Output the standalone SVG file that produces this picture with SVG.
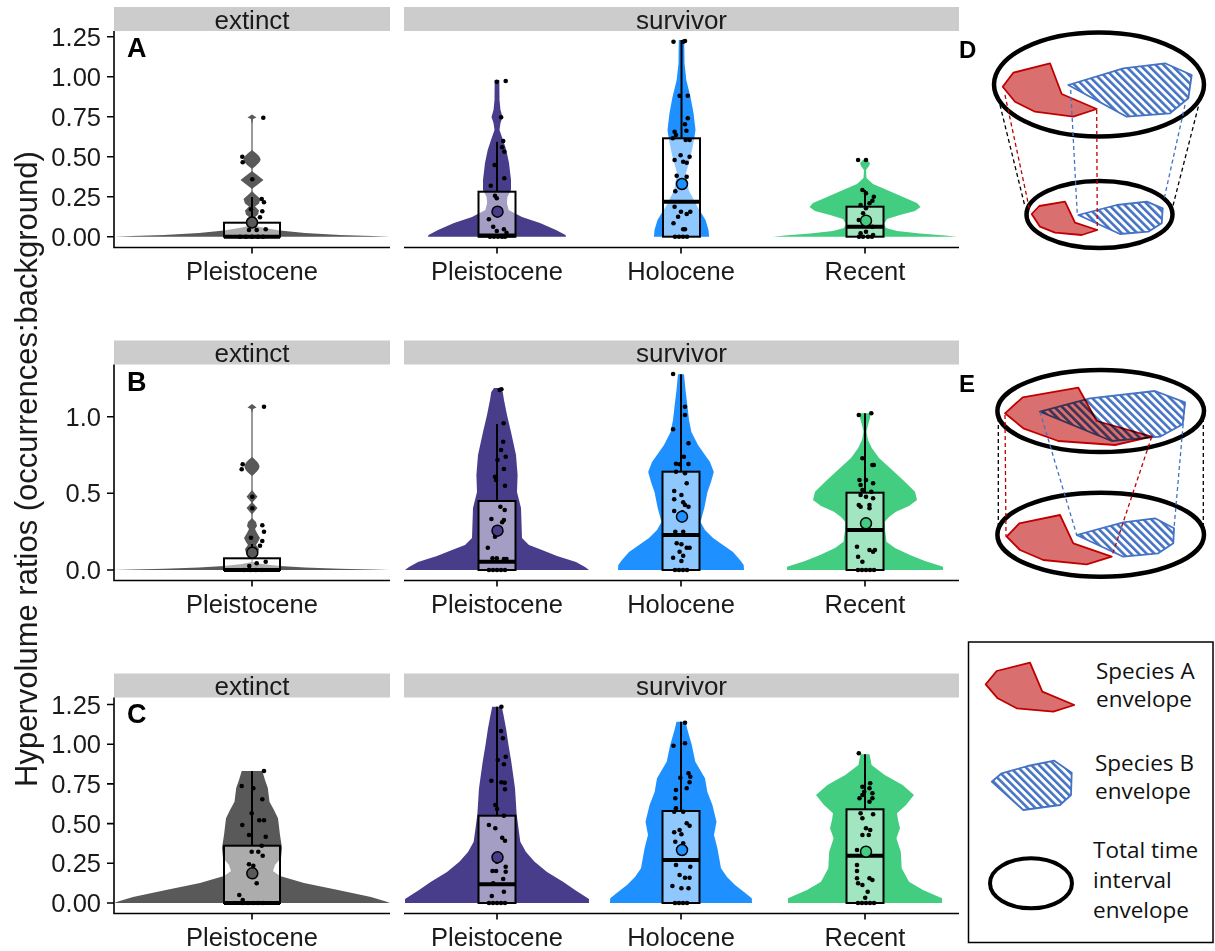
<svg xmlns="http://www.w3.org/2000/svg" width="1215" height="951" viewBox="0 0 1215 951">
<defs>
<pattern id="hatch" width="5.5" height="5.5" patternUnits="userSpaceOnUse" patternTransform="rotate(-45)"><rect width="5.5" height="5.5" fill="#fff"/><rect width="2.6" height="5.5" fill="#4472C4"/></pattern>
<style>
text{font-family:"Liberation Sans",Arial,sans-serif;fill:#1a1a1a}
.strip{fill:#cccccc}
.st{font-size:26px;text-anchor:middle}
.tk{font-size:25.5px;text-anchor:end}
.cat{font-size:25.5px;text-anchor:middle}
.let{font-size:27px;font-weight:bold;fill:#000}
.ax{stroke:#000;stroke-width:1.6;fill:none}
.vG{fill:#595959}.vP{fill:#483D8B}.vH{fill:#1E90FF}.vR{fill:#43CD80}
.box{fill:#fff;fill-opacity:.5;stroke:#000;stroke-width:2}
.med{stroke:#000;stroke-width:4}
.wh{stroke:#000;stroke-width:2}
.mn{stroke:#000;stroke-width:1.5}
.pts circle{fill:#000}
.red{fill:#D9706F;stroke:#C00000;stroke-width:1.8;stroke-linejoin:round}
.blue{fill:url(#hatch);stroke:#4472C4;stroke-width:1.8;stroke-linejoin:round}
.ell{fill:none;stroke:#000;stroke-width:4.5}
.dk{stroke:#000;stroke-width:1.3;stroke-dasharray:4 3;fill:none}
.dr{stroke:#C00000;stroke-width:1.3;stroke-dasharray:4 3;fill:none}
.db{stroke:#4472C4;stroke-width:1.3;stroke-dasharray:4 3;fill:none}
.leg{font-family:"Open Sans","Noto Sans",sans-serif;font-size:22.5px;fill:#111}
</style>
</defs>
<rect width="1215" height="951" fill="#fff"/>

<text transform="translate(37,469) rotate(-90)" text-anchor="middle" font-size="31">Hypervolume ratios (occurrences:background)</text>

<!-- ================= PANEL A ================= -->
<g id="panelA">
<rect class="strip" x="114" y="7" width="276" height="24"/>
<rect class="strip" x="404" y="7" width="555" height="24"/>
<text class="st" x="252" y="28.5">extinct</text>
<text class="st" x="681.5" y="28.5">survivor</text>
<path class="ax" d="M114,31V247.5H390M404,247.5H959M107,36.7H114M107,76.7H114M107,116.7H114M107,156.7H114M107,196.7H114M107,236.7H114M252,247.5V253.5M497,247.5V253.5M681,247.5V253.5M865,247.5V253.5"/>
<g class="tk"><text class="tk" x="101" y="45.7">1.25</text><text class="tk" x="101" y="85.7">1.00</text><text class="tk" x="101" y="125.7">0.75</text><text class="tk" x="101" y="165.7">0.50</text><text class="tk" x="101" y="205.7">0.25</text><text class="tk" x="101" y="245.7">0.00</text></g>
<text class="cat" x="252" y="280">Pleistocene</text><text class="cat" x="497" y="280">Pleistocene</text><text class="cat" x="681" y="280">Holocene</text><text class="cat" x="865" y="280">Recent</text>
<text class="let" x="127" y="57.3">A</text>
<g id="A-extinct">
<path class="vG" d="M114,236.7L390,236.7L372,236L340,235L305,233L280,230.5L262,227.5L252,225L242,227.5L224,230.5L199,233L164,235L132,236Z"/>
<rect class="vG" x="251.4" y="118" width="1.2" height="108"/>
<polygon class="vG" points="252,114.5 256.5,117.5 253,119 252,124 251,119 247.5,117.5"/>
<path class="vG" d="M252,150C257,154 260.5,157 260.5,159.5C260.5,162 257,165 252,169C247,165 243.5,162 243.5,159.5C243.5,157 247,154 252,150Z"/>
<polygon class="vG" points="252,171 263.5,180 252,189 240.5,180"/>
<polygon class="vG" points="252,191 255.5,194.5 260.5,199 259,203.5 255,206.5 259,210.5 258,214.5 254.5,217.5 257,221.5 252,225 247,221.5 249.5,217.5 246,214.5 245,210.5 249,206.5 245,203.5 243.5,199 248.5,194.5"/>
<line class="wh" x1="252" y1="197" x2="252" y2="222.7"/>
<rect class="box" x="224" y="222.7" width="56" height="14"/>
<line class="med" x1="224" y1="236.7" x2="280" y2="236.7"/>
<g class="pts"><circle cx="263.3" cy="117.7" r="2.3"/><circle cx="242.3" cy="156.7" r="2.3"/><circle cx="242.7" cy="162.3" r="2.3"/><circle cx="252.3" cy="179.3" r="2.3"/><circle cx="261.7" cy="199" r="2.3"/><circle cx="264" cy="202.3" r="2.3"/><circle cx="251" cy="209.3" r="2.3"/><circle cx="262.3" cy="211.3" r="2.3"/><circle cx="260" cy="217.3" r="2.3"/><circle cx="249" cy="230" r="2.3"/><circle cx="256.7" cy="230" r="2.3"/><circle cx="265.7" cy="229.3" r="2.3"/><circle cx="240" cy="236.7" r="2.3"/><circle cx="246" cy="236.7" r="2.3"/><circle cx="252" cy="236.7" r="2.3"/><circle cx="258" cy="236.7" r="2.3"/><circle cx="263" cy="236.7" r="2.3"/></g>
<circle class="mn vG" cx="252" cy="222.5" r="5.5"/>
</g>
<g id="A-pleistocene">
<polygon class="vP" points="499.3,80 499.5,100 500.5,110 502.5,117 500.5,123 499.5,130 503,140 506.3,150 509,163 511,180 511,190 507.4,197 506.9,203 508.6,210 522,217 540,223 556,230 565.5,235 566,236.7 428,236.7 428.5,235 438,230 454,223 472,217 485.4,210 487.1,203 486.6,197 483,190 483,180 485,163 487.7,150 491,140 494.5,130 493.5,123 491.5,117 493.5,110 494.5,100 494.7,80"/>
<line class="wh" x1="497" y1="141.7" x2="497" y2="191.7"/>
<rect class="box" x="478.5" y="191.7" width="37" height="45"/>
<line class="med" x1="478.5" y1="235.5" x2="515.5" y2="235.5"/>
<g class="pts"><circle cx="505.7" cy="81" r="2.3"/><circle cx="496.8" cy="81.7" r="2.3"/><circle cx="501.1" cy="117.3" r="2.3"/><circle cx="503.2" cy="141" r="2.3"/><circle cx="502.2" cy="147.3" r="2.3"/><circle cx="504.3" cy="151.7" r="2.3"/><circle cx="494.6" cy="165" r="2.3"/><circle cx="504.3" cy="178.3" r="2.3"/><circle cx="490.7" cy="185.7" r="2.3"/><circle cx="495" cy="195.7" r="2.3"/><circle cx="496.8" cy="198.3" r="2.3"/><circle cx="488.9" cy="219.3" r="2.3"/><circle cx="493.2" cy="226.7" r="2.3"/><circle cx="496.8" cy="231" r="2.3"/><circle cx="503.9" cy="229.3" r="2.3"/><circle cx="506.5" cy="232.7" r="2.3"/><circle cx="490" cy="236.7" r="2.3"/><circle cx="494" cy="236.7" r="2.3"/><circle cx="498" cy="236.7" r="2.3"/><circle cx="502" cy="236.7" r="2.3"/><circle cx="505" cy="236.7" r="2.3"/></g>
<circle class="mn vP" cx="497.5" cy="211.7" r="5.5"/>
</g>
<g id="A-holocene">
<polygon class="vH" points="684.2,40 684.5,63 686.3,80 690.5,97 693.5,113 695.5,130 694,140 690.5,157 686,173 688.7,190 697.5,207 705.5,220 708.5,230 709.1,236.7 653.9,236.7 654.5,230 657.5,220 665.5,207 674.3,190 677,173 672.5,157 669,140 667.5,130 669.5,113 672.5,97 676.7,80 678.5,63 678.8,40"/>
<line class="wh" x1="681.5" y1="40" x2="681.5" y2="138.3"/>
<rect class="box" x="663" y="138.3" width="37" height="98.4"/>
<line class="med" x1="663" y1="201.7" x2="700" y2="201.7"/>
<g class="pts"><circle cx="673.5" cy="41.7" r="2.3"/><circle cx="685" cy="41" r="2.3"/><circle cx="683.2" cy="41.7" r="2.3"/><circle cx="679.6" cy="95.7" r="2.3"/><circle cx="687.8" cy="95.7" r="2.3"/><circle cx="687.8" cy="118.3" r="2.3"/><circle cx="685" cy="124.3" r="2.3"/><circle cx="686.4" cy="130.7" r="2.3"/><circle cx="674.6" cy="131.7" r="2.3"/><circle cx="676" cy="135" r="2.3"/><circle cx="672.8" cy="138.3" r="2.3"/><circle cx="685.7" cy="140" r="2.3"/><circle cx="689.6" cy="140" r="2.3"/><circle cx="674.6" cy="160" r="2.3"/><circle cx="680.6" cy="155.3" r="2.3"/><circle cx="689.6" cy="156.7" r="2.3"/><circle cx="683.2" cy="161.7" r="2.3"/><circle cx="686.7" cy="162.7" r="2.3"/><circle cx="676.7" cy="175.7" r="2.3"/><circle cx="686.7" cy="176.7" r="2.3"/><circle cx="675.3" cy="191.3" r="2.3"/><circle cx="674.6" cy="206.7" r="2.3"/><circle cx="681" cy="211.7" r="2.3"/><circle cx="690.3" cy="211.7" r="2.3"/><circle cx="686.7" cy="214" r="2.3"/><circle cx="678.1" cy="216.7" r="2.3"/><circle cx="673.5" cy="223.3" r="2.3"/><circle cx="683.2" cy="229.3" r="2.3"/><circle cx="685" cy="229.3" r="2.3"/><circle cx="675" cy="236.7" r="2.3"/><circle cx="679" cy="236.7" r="2.3"/><circle cx="683" cy="236.7" r="2.3"/><circle cx="687" cy="236.7" r="2.3"/></g>
<circle class="mn vH" cx="682" cy="184" r="5.5"/>
</g>
<g id="A-recent">
<polygon class="vR" points="867,160 870,163 869,166 866,170 866.5,178 873,184 887,190 903,197 917,203 920.5,207 915,211 900,215 887,219 884,224 886,228 897,231 920,233.5 945,235.5 957,236.7 773,236.7 785,235.5 810,233.5 833,231 844,228 846,224 843,219 830,215 815,211 809.5,207 813,203 827,197 843,190 857,184 863.5,178 864,170 861,166 860,163 863,160"/>
<line class="wh" x1="865" y1="190" x2="865" y2="206.7"/>
<rect class="box" x="846.5" y="206.7" width="37" height="30"/>
<line class="med" x1="846.5" y1="226.7" x2="883.5" y2="226.7"/>
<g class="pts"><circle cx="858.1" cy="160" r="2.3"/><circle cx="866" cy="160" r="2.3"/><circle cx="862.4" cy="190" r="2.3"/><circle cx="866" cy="193.3" r="2.3"/><circle cx="873.8" cy="196.7" r="2.3"/><circle cx="872.4" cy="200.7" r="2.3"/><circle cx="869.5" cy="203.3" r="2.3"/><circle cx="860.6" cy="205" r="2.3"/><circle cx="866" cy="208.3" r="2.3"/><circle cx="863.1" cy="213.3" r="2.3"/><circle cx="858.8" cy="220" r="2.3"/><circle cx="869.5" cy="221.7" r="2.3"/><circle cx="872.4" cy="226.7" r="2.3"/><circle cx="866" cy="231.7" r="2.3"/><circle cx="860.6" cy="233.3" r="2.3"/><circle cx="873.1" cy="235" r="2.3"/><circle cx="859" cy="236.7" r="2.3"/><circle cx="863" cy="236.7" r="2.3"/><circle cx="868" cy="236.7" r="2.3"/><circle cx="872" cy="236.7" r="2.3"/></g>
<circle class="mn vR" cx="866" cy="220.7" r="5.5"/>
</g>
</g>

<!-- ================= PANEL B ================= -->
<g id="panelB">
<rect class="strip" x="114" y="340.5" width="276" height="24"/>
<rect class="strip" x="404" y="340.5" width="555" height="24"/>
<text class="st" x="252" y="361.8">extinct</text>
<text class="st" x="681.5" y="361.8">survivor</text>
<path class="ax" d="M114,364.5V580.5H390M404,580.5H959M107,416.7H114M107,493.3H114M107,570H114M252,580.5V586.5M497,580.5V586.5M681,580.5V586.5M865,580.5V586.5"/>
<text class="tk" x="101" y="425.7">1.0</text><text class="tk" x="101" y="502.3">0.5</text><text class="tk" x="101" y="579">0.0</text>
<text class="cat" x="252" y="613">Pleistocene</text><text class="cat" x="497" y="613">Pleistocene</text><text class="cat" x="681" y="613">Holocene</text><text class="cat" x="865" y="613">Recent</text>
<text class="let" x="127" y="391">B</text>
<g id="B-extinct">
<path class="vG" d="M114,570L390,570L372,569.5L340,568.7L305,567.5L280,566L262,564L252,562L242,564L224,566L199,567.5L164,568.7L132,569.5Z"/>
<rect class="vG" x="251.4" y="405" width="1.2" height="158"/>
<polygon class="vG" points="252,404 256.5,407.5 253,409 252,413 251,409 247.5,407.5"/>
<path class="vG" d="M252,457C257,461 259.5,464 259.5,466.5C259.5,469 257,472 252,476C247,472 244.5,469 244.5,466.5C244.5,464 247,461 252,457Z"/>
<polygon class="vG" points="252,490 257.5,496.7 252,503 246.5,496.7"/>
<polygon class="vG" points="252,502 257.5,508 252,514.5 246.5,508"/>
<polygon class="vG" points="252,518 256,522 257,526 255,529 257,533 260,538 258,542 256,545 259,549 258,553 252,558 246,553 245,549 248,545 246,542 244,538 247,533 249,529 247,526 248,522"/>
<line class="wh" x1="252" y1="544" x2="252" y2="558.3"/>
<rect class="box" x="224" y="558.3" width="56" height="11.7"/>
<line class="med" x1="224" y1="570" x2="280" y2="570"/>
<g class="pts"><circle cx="264" cy="406.7" r="2.3"/><circle cx="242.7" cy="464.3" r="2.3"/><circle cx="241.7" cy="469.3" r="2.3"/><circle cx="252.3" cy="496.7" r="2.3"/><circle cx="252.3" cy="508.3" r="2.3"/><circle cx="262.3" cy="525.3" r="2.3"/><circle cx="264" cy="531.7" r="2.3"/><circle cx="251" cy="537.7" r="2.3"/><circle cx="262.3" cy="541" r="2.3"/><circle cx="260" cy="545.7" r="2.3"/><circle cx="256.7" cy="563.3" r="2.3"/><circle cx="265.7" cy="561.7" r="2.3"/><circle cx="249.3" cy="566" r="2.3"/><circle cx="244" cy="570" r="2.3"/><circle cx="250" cy="570" r="2.3"/><circle cx="256" cy="570" r="2.3"/><circle cx="262" cy="570" r="2.3"/></g>
<circle class="mn vG" cx="252.3" cy="552.7" r="5.5"/>
</g>
<g id="B-pleistocene">
<polygon class="vP" points="500,388 502.7,392 504,400 507,415 511,432 516,455 517.6,475 517,492 521,508 522,538 529,545 542,550 557,556 576,562 585,567 589,570 405,570 409,567 418,562 437,556 452,550 465,545 472,538 473,508 477,492 476.4,475 478,455 483,432 487,415 490,400 491.3,392 494,388"/>
<line class="wh" x1="497" y1="424" x2="497" y2="501"/>
<rect class="box" x="478.5" y="501" width="37" height="69"/>
<line class="med" x1="478.5" y1="561.7" x2="515.5" y2="561.7"/>
<g class="pts"><circle cx="501.4" cy="389.3" r="2.3"/><circle cx="499.6" cy="390" r="2.3"/><circle cx="503.6" cy="423.3" r="2.3"/><circle cx="503.2" cy="441.7" r="2.3"/><circle cx="501.1" cy="450" r="2.3"/><circle cx="505.7" cy="456.7" r="2.3"/><circle cx="497.5" cy="460" r="2.3"/><circle cx="503.9" cy="469" r="2.3"/><circle cx="495" cy="476.7" r="2.3"/><circle cx="496.1" cy="480" r="2.3"/><circle cx="505" cy="485.7" r="2.3"/><circle cx="500.4" cy="506.7" r="2.3"/><circle cx="504.7" cy="510" r="2.3"/><circle cx="491.4" cy="519" r="2.3"/><circle cx="503.9" cy="520" r="2.3"/><circle cx="502.2" cy="522.3" r="2.3"/><circle cx="495" cy="536.7" r="2.3"/><circle cx="487.8" cy="547.7" r="2.3"/><circle cx="492.5" cy="558.3" r="2.3"/><circle cx="496.8" cy="558.3" r="2.3"/><circle cx="503.9" cy="559" r="2.3"/><circle cx="506.5" cy="559" r="2.3"/><circle cx="489" cy="570" r="2.3"/><circle cx="493" cy="570" r="2.3"/><circle cx="497" cy="570" r="2.3"/><circle cx="501" cy="570" r="2.3"/><circle cx="505" cy="570" r="2.3"/></g>
<circle class="mn vP" cx="497.5" cy="530.7" r="5.5"/>
</g>
<g id="B-holocene">
<polygon class="vH" points="684,374.3 685.5,390 687.3,405 689,420 691.4,432 698,445 705,455 710,462 713.8,472 711,482 707.5,492 704.3,508 700.5,522 705,530 713,538 723,545 733,552 740,560 743.7,565 744,570 618,570 618.3,565 622,560 629,552 639,545 649,538 657,530 661.5,522 657.7,508 654.5,492 651,482 648.2,472 652,462 657,455 664,445 670.6,432 673,420 674.7,405 676.5,390 678,374.3"/>
<line class="wh" x1="681" y1="374.3" x2="681" y2="471.7"/>
<rect class="box" x="662.5" y="471.7" width="37" height="98.3"/>
<line class="med" x1="662.5" y1="535" x2="699.5" y2="535"/>
<g class="pts"><circle cx="673.1" cy="374" r="2.3"/><circle cx="685" cy="406.7" r="2.3"/><circle cx="685" cy="415" r="2.3"/><circle cx="673.1" cy="429.3" r="2.3"/><circle cx="688.5" cy="443.3" r="2.3"/><circle cx="683.9" cy="456.7" r="2.3"/><circle cx="676" cy="463.7" r="2.3"/><circle cx="679.6" cy="464.3" r="2.3"/><circle cx="688.5" cy="464" r="2.3"/><circle cx="676" cy="471.7" r="2.3"/><circle cx="685" cy="473.3" r="2.3"/><circle cx="686.7" cy="483.3" r="2.3"/><circle cx="674.2" cy="491" r="2.3"/><circle cx="681.4" cy="495" r="2.3"/><circle cx="674.2" cy="499.3" r="2.3"/><circle cx="683.2" cy="502.3" r="2.3"/><circle cx="685" cy="505" r="2.3"/><circle cx="688.5" cy="506.7" r="2.3"/><circle cx="674.2" cy="511" r="2.3"/><circle cx="682.4" cy="512.3" r="2.3"/><circle cx="675.3" cy="531.7" r="2.3"/><circle cx="683.2" cy="531.7" r="2.3"/><circle cx="676.7" cy="543.3" r="2.3"/><circle cx="681.4" cy="544.3" r="2.3"/><circle cx="686.7" cy="547.7" r="2.3"/><circle cx="689.6" cy="547.7" r="2.3"/><circle cx="679.6" cy="551.7" r="2.3"/><circle cx="673.1" cy="557.7" r="2.3"/><circle cx="683.2" cy="555.7" r="2.3"/><circle cx="681.4" cy="561" r="2.3"/><circle cx="675" cy="570" r="2.3"/><circle cx="679" cy="570" r="2.3"/><circle cx="683" cy="570" r="2.3"/><circle cx="687" cy="570" r="2.3"/></g>
<circle class="mn vH" cx="682" cy="516.7" r="5.5"/>
</g>
<g id="B-recent">
<polygon class="vR" points="870.4,413.3 870,418 868,425 866.5,431.7 868,440 871.8,448 879,458 890,468 903,480 915,491.7 917,500 909,506 896,511.7 889,517 884.7,521.7 885,530 886.5,541.7 895,548 910,555 925,561 943,566.7 943,570 787,570 787,566.7 805,561 820,555 835,548 843.5,541.7 845,530 845.3,521.7 841,517 834,511.7 821,506 813,500 815,491.7 827,480 840,468 851,458 858.2,448 862,440 863.5,431.7 862,425 860,418 859.6,413.3"/>
<line class="wh" x1="865" y1="413.3" x2="865" y2="492.7"/>
<rect class="box" x="846.5" y="492.7" width="37" height="77.3"/>
<line class="med" x1="846.5" y1="530" x2="883.5" y2="530"/>
<g class="pts"><circle cx="858.8" cy="415" r="2.3"/><circle cx="871.3" cy="413.3" r="2.3"/><circle cx="862.4" cy="458.3" r="2.3"/><circle cx="872.4" cy="465" r="2.3"/><circle cx="873.8" cy="465" r="2.3"/><circle cx="859.5" cy="480" r="2.3"/><circle cx="866" cy="480" r="2.3"/><circle cx="860.6" cy="485" r="2.3"/><circle cx="873.1" cy="483.3" r="2.3"/><circle cx="862.4" cy="490" r="2.3"/><circle cx="871.3" cy="491.7" r="2.3"/><circle cx="860.6" cy="495" r="2.3"/><circle cx="866" cy="496.7" r="2.3"/><circle cx="873.1" cy="498.3" r="2.3"/><circle cx="858.8" cy="505" r="2.3"/><circle cx="869.5" cy="505" r="2.3"/><circle cx="860.6" cy="506.7" r="2.3"/><circle cx="869.5" cy="508.3" r="2.3"/><circle cx="866" cy="521.7" r="2.3"/><circle cx="857" cy="546.7" r="2.3"/><circle cx="869.5" cy="550" r="2.3"/><circle cx="874.9" cy="550" r="2.3"/><circle cx="873.1" cy="551.7" r="2.3"/><circle cx="858.1" cy="556.7" r="2.3"/><circle cx="862.4" cy="561.7" r="2.3"/><circle cx="858" cy="570" r="2.3"/><circle cx="862" cy="570" r="2.3"/><circle cx="866" cy="570" r="2.3"/><circle cx="870" cy="570" r="2.3"/><circle cx="874" cy="570" r="2.3"/></g>
<circle class="mn vR" cx="866" cy="523.3" r="5.5"/>
</g>
</g>

<!-- ================= PANEL C ================= -->
<g id="panelC">
<rect class="strip" x="114" y="673.5" width="276" height="24"/>
<rect class="strip" x="404" y="673.5" width="555" height="24"/>
<text class="st" x="252" y="694.8">extinct</text>
<text class="st" x="681.5" y="694.8">survivor</text>
<path class="ax" d="M114,697.5V913.5H390M404,913.5H959M107,704.5H114M107,744.2H114M107,783.9H114M107,823.6H114M107,863.3H114M107,903H114M252,913.5V919.5M497,913.5V919.5M681,913.5V919.5M865,913.5V919.5"/>
<text class="tk" x="101" y="713.5">1.25</text><text class="tk" x="101" y="753.2">1.00</text><text class="tk" x="101" y="792.9">0.75</text><text class="tk" x="101" y="832.6">0.50</text><text class="tk" x="101" y="872.3">0.25</text><text class="tk" x="101" y="912">0.00</text>
<text class="cat" x="252" y="946">Pleistocene</text><text class="cat" x="497" y="946">Pleistocene</text><text class="cat" x="681" y="946">Holocene</text><text class="cat" x="865" y="946">Recent</text>
<text class="let" x="127" y="723.3">C</text>
<g id="C-extinct">
<polygon class="vG" points="262.3,771 265,780 267.8,788 269.5,801.7 274,810 278,818.3 280,835 282,848 281,858 275,865 273,871 280,876 304,883 338,890 371,897 386,901.5 390,903 114,903 118,901.5 133,897 166,890 200,883 224,876 231,871 229,865 223,858 222,848 224,835 226,818.3 230,810 234.5,801.7 236.2,788 239,780 241.7,771"/>
<line class="wh" x1="252" y1="771" x2="252" y2="845.7"/>
<rect class="box" x="224" y="845.7" width="56" height="57.3"/>
<line class="med" x1="224" y1="903" x2="280" y2="903"/>
<g class="pts"><circle cx="264" cy="771" r="2.3"/><circle cx="241.7" cy="786" r="2.3"/><circle cx="253.3" cy="788.3" r="2.3"/><circle cx="262.3" cy="799.3" r="2.3"/><circle cx="251.7" cy="813.3" r="2.3"/><circle cx="259.3" cy="820.3" r="2.3"/><circle cx="264" cy="820.3" r="2.3"/><circle cx="242.3" cy="825" r="2.3"/><circle cx="249" cy="835" r="2.3"/><circle cx="265.7" cy="836.7" r="2.3"/><circle cx="261.7" cy="845.7" r="2.3"/><circle cx="251.7" cy="851.7" r="2.3"/><circle cx="258.3" cy="851.7" r="2.3"/><circle cx="262.7" cy="855.7" r="2.3"/><circle cx="249" cy="864.3" r="2.3"/><circle cx="253.3" cy="865.7" r="2.3"/><circle cx="256.7" cy="883.3" r="2.3"/><circle cx="239.3" cy="895" r="2.3"/><circle cx="242.7" cy="900" r="2.3"/><circle cx="243" cy="903" r="2.3"/><circle cx="248" cy="903" r="2.3"/><circle cx="253" cy="903" r="2.3"/><circle cx="258" cy="903" r="2.3"/><circle cx="263" cy="903" r="2.3"/></g>
<circle class="mn vG" cx="252.3" cy="873.3" r="5.5"/>
</g>
<g id="C-pleistocene">
<polygon class="vP" points="501.8,706.7 503.5,715 506,728.3 508.5,745 511.3,761.7 515,788.3 516.7,815 520.3,841.7 526,852 534.6,861.7 547,872 563,881.7 575,890 589,899 589,903 405,903 405,899 419,890 431,881.7 447,872 459.4,861.7 468,852 473.7,841.7 477.3,815 479,788.3 482.7,761.7 485.5,745 488,728.3 490.5,715 492.2,706.7"/>
<line class="wh" x1="497" y1="706.7" x2="497" y2="815.7"/>
<rect class="box" x="478.5" y="815.7" width="37" height="87.3"/>
<line class="med" x1="478.5" y1="884.3" x2="515.5" y2="884.3"/>
<g class="pts"><circle cx="501.4" cy="706.7" r="2.3"/><circle cx="501.1" cy="731" r="2.3"/><circle cx="502.9" cy="738.3" r="2.3"/><circle cx="505.7" cy="756.7" r="2.3"/><circle cx="497.8" cy="760" r="2.3"/><circle cx="503.9" cy="764.3" r="2.3"/><circle cx="491.4" cy="780.7" r="2.3"/><circle cx="501.4" cy="782.3" r="2.3"/><circle cx="504.7" cy="782.7" r="2.3"/><circle cx="505" cy="789.3" r="2.3"/><circle cx="495.3" cy="805" r="2.3"/><circle cx="497.1" cy="809" r="2.3"/><circle cx="503.9" cy="815.7" r="2.3"/><circle cx="488.9" cy="825" r="2.3"/><circle cx="495.3" cy="828.3" r="2.3"/><circle cx="502.2" cy="837.7" r="2.3"/><circle cx="505" cy="840.7" r="2.3"/><circle cx="496.8" cy="861.7" r="2.3"/><circle cx="505.7" cy="866.7" r="2.3"/><circle cx="492.5" cy="871" r="2.3"/><circle cx="496.1" cy="871" r="2.3"/><circle cx="505.7" cy="871.7" r="2.3"/><circle cx="503.2" cy="879" r="2.3"/><circle cx="493.2" cy="883.3" r="2.3"/><circle cx="491.8" cy="896" r="2.3"/><circle cx="503.9" cy="891.7" r="2.3"/><circle cx="489" cy="903" r="2.3"/><circle cx="493" cy="903" r="2.3"/><circle cx="497" cy="903" r="2.3"/><circle cx="501" cy="903" r="2.3"/><circle cx="505" cy="903" r="2.3"/></g>
<circle class="mn vP" cx="497.5" cy="857.3" r="5.5"/>
</g>
<g id="C-holocene">
<polygon class="vH" points="685.5,721.7 687.5,730 691.8,745 695.3,761.7 705,778.3 707.3,791.7 712.4,805 716.5,821.7 714,835 717.4,848.3 721,868.3 727,877 735,885 744,892 751.8,898.3 752,903 610,903 610.2,898.3 618,892 627,885 635,877 641,868.3 644.6,848.3 648,835 645.5,821.7 649.6,805 654.7,791.7 657,778.3 666.7,761.7 670.2,745 674.5,730 676.5,721.7"/>
<line class="wh" x1="681" y1="721.7" x2="681" y2="811"/>
<rect class="box" x="662.5" y="811" width="37" height="92"/>
<line class="med" x1="662.5" y1="860" x2="699.5" y2="860"/>
<g class="pts"><circle cx="685" cy="722.7" r="2.3"/><circle cx="673.5" cy="745.7" r="2.3"/><circle cx="685" cy="743.3" r="2.3"/><circle cx="688.5" cy="773.3" r="2.3"/><circle cx="690.3" cy="776.7" r="2.3"/><circle cx="680.3" cy="777.7" r="2.3"/><circle cx="689.6" cy="782.3" r="2.3"/><circle cx="686.7" cy="788.3" r="2.3"/><circle cx="676" cy="790" r="2.3"/><circle cx="675.3" cy="798.3" r="2.3"/><circle cx="676" cy="808.3" r="2.3"/><circle cx="674.2" cy="811.7" r="2.3"/><circle cx="683.2" cy="811.7" r="2.3"/><circle cx="686.7" cy="823.3" r="2.3"/><circle cx="689.6" cy="825.7" r="2.3"/><circle cx="679.6" cy="830" r="2.3"/><circle cx="674.2" cy="832.3" r="2.3"/><circle cx="681.4" cy="834.3" r="2.3"/><circle cx="675.3" cy="841.7" r="2.3"/><circle cx="683.2" cy="843.3" r="2.3"/><circle cx="681" cy="847.7" r="2.3"/><circle cx="690.3" cy="866.7" r="2.3"/><circle cx="676" cy="865" r="2.3"/><circle cx="679.6" cy="875" r="2.3"/><circle cx="685" cy="877.7" r="2.3"/><circle cx="689.6" cy="877.7" r="2.3"/><circle cx="672.4" cy="886" r="2.3"/><circle cx="681.4" cy="888.3" r="2.3"/><circle cx="688.5" cy="888.3" r="2.3"/><circle cx="675" cy="903" r="2.3"/><circle cx="679" cy="903" r="2.3"/><circle cx="683" cy="903" r="2.3"/><circle cx="687" cy="903" r="2.3"/></g>
<circle class="mn vH" cx="682" cy="850" r="5.5"/>
</g>
<g id="C-recent">
<polygon class="vR" points="869.5,754.3 871.6,765 884.7,775 902.6,785 914,795 906,805 897,813.3 898,820 900,828.3 896.4,838.3 900.8,851.7 901.7,868.3 909,881.7 923,890 942,898.3 942,903 788,903 788,898.3 807,890 821,881.7 828.3,868.3 829.2,851.7 833.6,838.3 830,828.3 832,820 833,813.3 824,805 816,795 827.4,785 845.3,775 858.4,765 860.5,754.3"/>
<line class="wh" x1="865" y1="754.3" x2="865" y2="809.3"/>
<rect class="box" x="846.5" y="809.3" width="37" height="93.7"/>
<line class="med" x1="846.5" y1="855.7" x2="883.5" y2="855.7"/>
<g class="pts"><circle cx="858.8" cy="753.3" r="2.3"/><circle cx="862.4" cy="786.7" r="2.3"/><circle cx="870.2" cy="783.3" r="2.3"/><circle cx="869.5" cy="788.3" r="2.3"/><circle cx="864.2" cy="791.7" r="2.3"/><circle cx="872.4" cy="793.3" r="2.3"/><circle cx="862.4" cy="795" r="2.3"/><circle cx="859.5" cy="798.3" r="2.3"/><circle cx="872.4" cy="798.3" r="2.3"/><circle cx="869.5" cy="801.7" r="2.3"/><circle cx="860.6" cy="813.3" r="2.3"/><circle cx="873.1" cy="814.3" r="2.3"/><circle cx="862.4" cy="818.3" r="2.3"/><circle cx="866" cy="828.3" r="2.3"/><circle cx="870.2" cy="830" r="2.3"/><circle cx="862.4" cy="835" r="2.3"/><circle cx="868.8" cy="835" r="2.3"/><circle cx="857" cy="850" r="2.3"/><circle cx="857" cy="865" r="2.3"/><circle cx="857" cy="871" r="2.3"/><circle cx="857" cy="878.3" r="2.3"/><circle cx="858.1" cy="883.3" r="2.3"/><circle cx="862.4" cy="885" r="2.3"/><circle cx="869.5" cy="878.3" r="2.3"/><circle cx="872.4" cy="880" r="2.3"/><circle cx="867.7" cy="891.7" r="2.3"/><circle cx="865.2" cy="897.7" r="2.3"/><circle cx="858" cy="903" r="2.3"/><circle cx="862" cy="903" r="2.3"/><circle cx="866" cy="903" r="2.3"/><circle cx="870" cy="903" r="2.3"/><circle cx="874" cy="903" r="2.3"/></g>
<circle class="mn vR" cx="866" cy="851.7" r="5.5"/>
</g>
</g>

<!-- ================= PANEL D ================= -->
<g id="panelD">
<text class="let" x="959" y="58" style="font-size:24px">D</text>
<ellipse class="ell" cx="1099" cy="84.5" rx="105" ry="52"/>
<ellipse class="ell" cx="1099.5" cy="214.5" rx="73" ry="33.5"/>
<polygon class="red" points="1002.7,86.7 1013.3,72.7 1050,63.3 1061.7,94 1096.7,109 1073.3,116.7 1035,111.7 1015,101.7"/>
<polygon class="blue" points="1068.3,85 1123.3,68.3 1165,63.3 1191.7,75 1188.3,98.3 1170,113.3 1126.7,116.7"/>
<polygon class="red" points="1031.7,214 1039.3,206 1065,201.7 1075,222.7 1097.3,230 1081.7,235 1055,232.7 1040,226.7"/>
<polygon class="blue" points="1078.3,215 1116.7,205 1146.7,201.7 1162.7,208.3 1161.7,223.3 1148.3,231.7 1120,234"/>
</g>
<!-- ================= PANEL E ================= -->
<g id="panelE">
<text class="let" x="959" y="392" style="font-size:24px">E</text>
<ellipse class="ell" cx="1100.7" cy="411" rx="103.3" ry="41"/>
<ellipse class="ell" cx="1100.7" cy="534.7" rx="103.3" ry="42"/>
<polygon class="blue" points="1040,411.7 1090,398.3 1155,391 1185,402.3 1182.7,424.3 1160,436.7 1111.7,441"/>
<polygon class="red" style="mix-blend-mode:multiply" points="1005,413.3 1022.7,397.3 1078.3,387.7 1096.7,421 1151.7,436.7 1115,445 1058.3,441 1023.3,428.3"/>
<polygon class="red" points="1006.7,536.7 1019.3,523.3 1060,515 1073.3,543.3 1111.7,556.7 1086.7,564.3 1043.3,560 1020,550"/>
<polygon class="blue" points="1076.7,535 1123.3,522.3 1155,518.3 1174,528.3 1173.3,543.3 1158.3,553.3 1123.3,556.7"/>
</g>
<g id="connectors">
<line class="dk" x1="1000" y1="105" x2="1025" y2="206.7"/>
<line class="dr" x1="1005" y1="95" x2="1030" y2="211.7"/>
<line class="db" x1="1070.7" y1="90" x2="1077.3" y2="215"/>
<line class="dr" x1="1096.7" y1="110" x2="1097.3" y2="230"/>
<line class="db" x1="1185" y1="105" x2="1164.3" y2="198"/>
<line class="dk" x1="1198.3" y1="106.7" x2="1172.7" y2="206.7"/>
<line class="dk" x1="998.3" y1="418" x2="998.3" y2="533"/>
<line class="dk" x1="1203.3" y1="418" x2="1203.3" y2="533"/>
<line class="dr" x1="1005" y1="415" x2="1006" y2="536.7"/>
<line class="db" x1="1040" y1="411.7" x2="1076.7" y2="535"/>
<line class="dr" x1="1151.7" y1="436.7" x2="1111.7" y2="556.7"/>
<line class="db" x1="1185" y1="403.3" x2="1174" y2="528.3"/>
</g>

<!-- ================= LEGEND ================= -->
<g id="legend">
<rect x="968.5" y="642" width="244.5" height="300.5" fill="#fff" stroke="#000" stroke-width="1.5"/>
<polygon class="red" points="985.7,684.3 996.7,671 1030,662.7 1042.3,691.7 1074.3,705 1053.3,711.7 1016.7,708.3 997.7,698.3"/>
<text class="leg" x="1096" y="679">Species A</text>
<text class="leg" x="1096" y="707">envelope</text>
<polygon class="blue" points="991.7,781.7 1001.7,773.3 1027.7,766 1054.3,760.7 1071.7,772.7 1071,795 1060,805 1023.3,810"/>
<text class="leg" x="1095" y="771">Species B</text>
<text class="leg" x="1095" y="799">envelope</text>
<ellipse cx="1031" cy="883.3" rx="41" ry="25" fill="none" stroke="#000" stroke-width="4"/>
<text class="leg" x="1093" y="858">Total time</text>
<text class="leg" x="1093" y="888">interval</text>
<text class="leg" x="1093" y="918">envelope</text>
</g>
</svg>
